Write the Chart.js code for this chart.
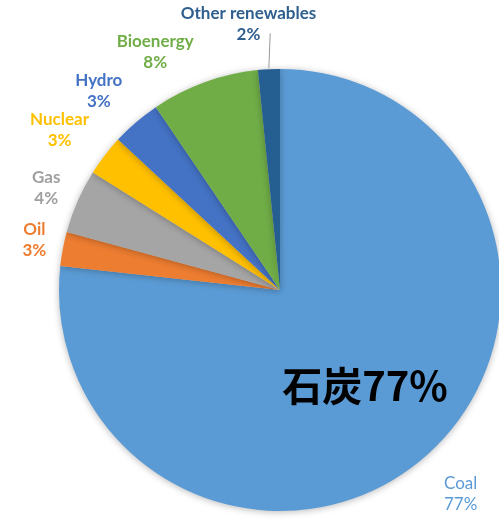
<!DOCTYPE html>
<html>
<head>
<meta charset="utf-8">
<script src="https://cdn.jsdelivr.net/npm/chart.js@4.4.0/dist/chart.umd.min.js"></script>
<style>
    html, body { margin: 0; padding: 0; background: #fff; overflow: hidden; }
    #wrap { position: absolute; left: 0; top: 0; width: 560px; height: 580px; }
</style>
</head>
<body>
<div id="wrap"><canvas id="mixChart" width="560" height="580"></canvas></div>
<script>
// energy mix, share of total (%)
const sources = ['Coal', 'Oil', 'Gas', 'Nuclear', 'Hydro', 'Bioenergy', 'Other renewables'];
const shares = [76.8, 2.5, 4.7, 3.0, 3.6, 7.9, 1.6];
const shareLabels = ['77%', '3%', '4%', '3%', '3%', '8%', '2%'];
const colors = ['#5b9bd5', '#ed7d31', '#a5a5a5', '#ffc000', '#4472c4', '#70ad47', '#255e91'];
const textColors = ['#5b9bd5', '#ed7d31', '#a0a0a0', '#ffc000', '#4472c4', '#70ad47', '#2f5f8f'];
const bigLabel = '石炭77%';

// nudges for labels that don't sit on the slice mid angle
const labelNudge = [[1, 3], [3, -4], [-2, -1], [-7, 3], [-6, 5], [-33, 14], [-18, 2]];
const labelWeight = ['normal', 'bold', 'bold', 'bold', 'bold', 'bold', 'bold'];

const shadowPlugin = {
    id: 'pieShadow',
    beforeDatasetsDraw(chart) {
        const ctx = chart.ctx;
        ctx.save();
        ctx.shadowColor = 'rgba(0,0,0,0.28)';
        ctx.shadowBlur = 7;
        ctx.shadowOffsetX = 0;
        ctx.shadowOffsetY = 1;
    },
    afterDatasetsDraw(chart) {
        chart.ctx.restore();
    }
};

const labelPlugin = {
    id: 'outsideLabels',
    afterDraw(chart) {
        const ctx = chart.ctx;
        const arcs = chart.getDatasetMeta(0).data;
        ctx.save();
        ctx.textAlign = 'center';
        ctx.textBaseline = 'middle';
        arcs.forEach((arc, i) => {
            const mid = (arc.startAngle + arc.endAngle) / 2;
            const r = arc.outerRadius + (i === 1 || i === 2 ? 32 : 48);
            const x = arc.x + Math.cos(mid) * r + labelNudge[i][0];
            const y = arc.y + Math.sin(mid) * r + labelNudge[i][1];
            ctx.fillStyle = textColors[i];
            ctx.font = labelWeight[i] + ' 17px Lato, sans-serif';
            ctx.fillText(sources[i], x, y - 10);
            ctx.fillText(shareLabels[i], x, y + 11);
            if (i === arcs.length - 1) {
                // leader line from the small slice to its label
                ctx.strokeStyle = '#9a9a9a';
                ctx.lineWidth = 1;
                ctx.beginPath();
                ctx.moveTo(arc.x + Math.cos(mid) * (arc.outerRadius + 1), arc.y + Math.sin(mid) * (arc.outerRadius + 1));
                ctx.lineTo(arc.x + Math.cos(mid) * (arc.outerRadius + 34) + 3, y + 10);
                ctx.stroke();
            }
        });
        // big annotation inside the coal slice
        const coal = arcs[0];
        ctx.fillStyle = '#000';
        ctx.font = 'bold 40px "Noto Sans CJK JP", sans-serif';
        ctx.fillText(bigLabel, coal.x + 85, coal.y + 96);
        ctx.restore();
    }
};

const ctx = document.getElementById('mixChart').getContext('2d');
const mixChart = new Chart(ctx, {
    type: 'pie',
    data: {
        labels: sources,
        datasets: [{
            data: shares,
            backgroundColor: colors,
            borderWidth: 0
        }]
    },
    options: {
        responsive: false,
        animation: false,
        layout: {
            padding: { left: 59, right: 59, top: 69, bottom: 69 }
        },
        plugins: {
            legend: { display: false },
            tooltip: { enabled: false }
        }
    },
    plugins: [shadowPlugin, labelPlugin]
});
</script>
</body>
</html>
